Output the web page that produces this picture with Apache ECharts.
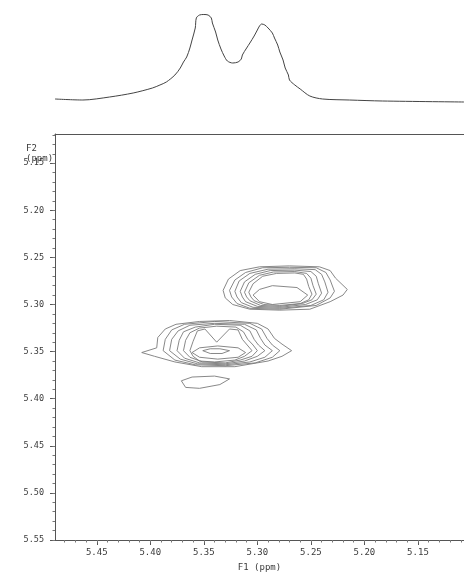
<!DOCTYPE html>
<html><head><meta charset="utf-8">
<script src="https://cdn.jsdelivr.net/npm/echarts@6/dist/echarts.min.js"></script>
<style>html,body{margin:0;padding:0;background:#fff}#c{width:464px;height:577px}</style>
</head><body><div id="c"></div>
<script>
// 1D projection spectrum (F1 ppm, relative intensity)
const specF1 = [5.489,5.463,5.438,5.416,5.398,5.391,5.385,5.377,5.372,5.369,5.366,5.363,5.361,5.358,5.357,5.354,5.350,5.346,5.343,5.342,5.339,5.337,5.334,5.331,5.328,5.323,5.318,5.315,5.314,5.310,5.307,5.303,5.300,5.298,5.296,5.293,5.290,5.286,5.284,5.281,5.279,5.276,5.274,5.271,5.270,5.265,5.260,5.251,5.239,5.214,5.183,5.107];
const specIntensity = [6,5,8,12,17,20,23,30,37,43,48,57,65,77,87,90,90.5,90,87,82,73,65,56,49,44,42,43,46,50,57,62,69,75,79,81,80,77,72,67,60,53,45,37,30,25,20,16,9,6,5,4,3];

// tick labels
const xTickLabels = [5.15,5.20,5.25,5.30,5.35,5.40,5.45];
const yTickLabels = [5.15,5.20,5.25,5.30,5.35,5.40,5.45,5.50,5.55];

// contour rings [F1, F2] — upper-right cross peak
const upperRing0 = [[5.332,5.285],[5.327,5.273],[5.316,5.264],[5.298,5.260],[5.270,5.259],[5.242,5.260],[5.232,5.264],[5.227,5.272],[5.216,5.284],[5.220,5.290],[5.232,5.297],[5.251,5.305],[5.279,5.306],[5.307,5.305],[5.323,5.300],[5.330,5.293]];
const upperRing1 = [[5.326,5.285],[5.321,5.274],[5.311,5.266],[5.295,5.261],[5.270,5.2605],[5.245,5.261],[5.236,5.266],[5.232,5.274],[5.228,5.286],[5.232,5.293],[5.245,5.301],[5.279,5.305],[5.307,5.304],[5.319,5.299],[5.324,5.292]];
const upperRing2 = [[5.321,5.286],[5.317,5.275],[5.307,5.267],[5.290,5.2625],[5.265,5.262],[5.246,5.263],[5.240,5.268],[5.237,5.276],[5.234,5.287],[5.238,5.295],[5.250,5.301],[5.279,5.304],[5.304,5.303],[5.315,5.298],[5.319,5.292]];
const upperRing3 = [[5.316,5.286],[5.312,5.276],[5.302,5.268],[5.288,5.264],[5.265,5.2635],[5.250,5.265],[5.245,5.270],[5.243,5.278],[5.240,5.288],[5.244,5.295],[5.255,5.300],[5.279,5.303],[5.300,5.302],[5.311,5.297],[5.314,5.292]];
const upperRing4 = [[5.312,5.287],[5.308,5.277],[5.298,5.269],[5.285,5.2655],[5.265,5.265],[5.254,5.267],[5.250,5.272],[5.248,5.280],[5.245,5.289],[5.249,5.295],[5.258,5.299],[5.279,5.302],[5.297,5.301],[5.307,5.296],[5.310,5.292]];
const upperRing5 = [[5.308,5.287],[5.304,5.278],[5.295,5.270],[5.282,5.267],[5.265,5.2665],[5.257,5.268],[5.254,5.273],[5.252,5.281],[5.249,5.289],[5.252,5.295],[5.260,5.299],[5.279,5.301],[5.294,5.300],[5.303,5.296],[5.306,5.292]];
const upperCore = [[5.304,5.290],[5.298,5.284],[5.286,5.280],[5.263,5.282],[5.253,5.290],[5.260,5.297],[5.286,5.300],[5.298,5.297]];

// lower-left diagonal peak
const lowerRing0 = [[5.408,5.351],[5.394,5.346],[5.393,5.335],[5.386,5.326],[5.376,5.321],[5.354,5.318],[5.326,5.317],[5.300,5.320],[5.290,5.326],[5.284,5.336],[5.277,5.342],[5.268,5.349],[5.277,5.355],[5.290,5.360],[5.321,5.366],[5.352,5.366],[5.377,5.361],[5.396,5.355]];
const lowerRing1 = [[5.388,5.349],[5.386,5.337],[5.380,5.327],[5.368,5.321],[5.340,5.318],[5.307,5.320],[5.296,5.326],[5.291,5.336],[5.286,5.343],[5.279,5.349],[5.286,5.356],[5.302,5.362],[5.330,5.365],[5.358,5.364],[5.377,5.359]];
const lowerRing2 = [[5.382,5.349],[5.380,5.337],[5.374,5.328],[5.363,5.322],[5.340,5.320],[5.312,5.321],[5.301,5.327],[5.297,5.336],[5.293,5.343],[5.286,5.349],[5.293,5.356],[5.307,5.361],[5.330,5.364],[5.356,5.363],[5.372,5.358]];
const lowerRing3 = [[5.375,5.349],[5.373,5.338],[5.369,5.329],[5.358,5.324],[5.340,5.321],[5.316,5.322],[5.307,5.328],[5.303,5.337],[5.299,5.343],[5.293,5.349],[5.300,5.355],[5.312,5.360],[5.330,5.363],[5.354,5.362],[5.368,5.357]];
const lowerRing4 = [[5.369,5.349],[5.367,5.338],[5.363,5.330],[5.354,5.325],[5.338,5.323],[5.320,5.324],[5.313,5.329],[5.309,5.337],[5.304,5.343],[5.300,5.349],[5.305,5.355],[5.316,5.359],[5.330,5.362],[5.351,5.361],[5.363,5.356]];
const lowerRing5 = [[5.363,5.349],[5.360,5.339],[5.356,5.328],[5.349,5.326],[5.338,5.340],[5.326,5.326],[5.318,5.327],[5.314,5.337],[5.305,5.349],[5.312,5.355],[5.321,5.359],[5.340,5.361],[5.354,5.360],[5.360,5.355]];
const lowerRing6 = [[5.361,5.351],[5.354,5.346],[5.337,5.344],[5.318,5.346],[5.311,5.351],[5.318,5.356],[5.337,5.358],[5.354,5.356]];
const lowerCore = [[5.351,5.349],[5.344,5.347],[5.335,5.347],[5.326,5.349],[5.333,5.352],[5.344,5.352]];

// small isolated contour below
const smallPeak = [[5.371,5.381],[5.361,5.377],[5.340,5.376],[5.326,5.379],[5.335,5.385],[5.354,5.389],[5.367,5.388]];

const contours = [upperRing0,upperRing1,upperRing2,upperRing3,upperRing4,upperRing5,upperCore,
  lowerRing0,lowerRing1,lowerRing2,lowerRing3,lowerRing4,lowerRing5,lowerRing6,lowerCore,smallPeak];

const X_MIN = 5.107, X_MAX = 5.489, Y_MIN = 5.119, Y_MAX = 5.55;
const xMinor = [], yMinor = [];
for (let i = 511; i <= 548; i++) xMinor.push(i / 100);
for (let i = 512; i <= 555; i++) yMinor.push(i / 100);

const mono = 'DejaVu Sans Mono';
const axisCol = '#555';
const labelCol = '#3a3a3a';

const series = [{
  type: 'line', xAxisIndex: 0, yAxisIndex: 0,
  data: specF1.map((f, i) => [f, specIntensity[i]]),
  symbol: 'none', smooth: 0.3,
  lineStyle: { color: '#444', width: 1 }, silent: true, clip: true
}];
contours.forEach(ring => {
  series.push({
    type: 'line', xAxisIndex: 1, yAxisIndex: 1,
    data: ring.concat([ring[0]]),
    symbol: 'none', smooth: false,
    lineStyle: { color: '#7a7a7a', width: 0.9 }, silent: true
  });
});

const chart = echarts.init(document.getElementById('c'), null, { renderer: 'canvas' });
chart.setOption({
  animation: false,
  backgroundColor: '#fff',
  title: {
    text: 'F2\n(ppm)', left: 21, top: 139,
    textStyle: { fontFamily: mono, fontSize: 9, lineHeight: 10, fontWeight: 'normal', color: labelCol }
  },
  grid: [
    { left: 55, right: 0, top: 5, height: 100 },
    { left: 55, right: 0, top: 134, bottom: 34 }
  ],
  xAxis: [
    { gridIndex: 0, type: 'value', inverse: true, min: X_MIN, max: X_MAX, show: false },
    { gridIndex: 1, type: 'value', inverse: true, min: X_MIN, max: X_MAX, position: 'bottom',
      axisLine: { show: true, lineStyle: { color: axisCol, width: 1 } },
      axisTick: { show: true, customValues: xTickLabels, length: 5, lineStyle: { color: axisCol } },
      axisLabel: { customValues: xTickLabels, formatter: v => v.toFixed(2), fontFamily: mono, fontSize: 9, color: labelCol, margin: 8 },
      splitLine: { show: false },
      name: 'F1 (ppm)', nameLocation: 'middle', nameGap: 23,
      nameTextStyle: { fontFamily: mono, fontSize: 9, color: labelCol } },
    { gridIndex: 1, type: 'value', inverse: true, min: X_MIN, max: X_MAX, position: 'bottom',
      axisLine: { show: false },
      axisTick: { show: true, customValues: xMinor, length: 2.5, lineStyle: { color: '#777' } },
      axisLabel: { show: false }, splitLine: { show: false } },
    { gridIndex: 1, type: 'value', inverse: true, min: X_MIN, max: X_MAX, position: 'top',
      axisLine: { show: true, lineStyle: { color: axisCol, width: 1 } },
      axisTick: { show: false }, axisLabel: { show: false }, splitLine: { show: false } }
  ],
  yAxis: [
    { gridIndex: 0, type: 'value', min: 0, max: 100, show: false },
    { gridIndex: 1, type: 'value', inverse: true, min: Y_MIN, max: Y_MAX, position: 'left',
      axisLine: { show: true, lineStyle: { color: axisCol, width: 1 } },
      axisTick: { show: true, customValues: yTickLabels, length: 5, lineStyle: { color: axisCol } },
      axisLabel: { customValues: yTickLabels, formatter: v => v.toFixed(2), fontFamily: mono, fontSize: 8.5, color: labelCol, margin: 11 },
      splitLine: { show: false } },
    { gridIndex: 1, type: 'value', inverse: true, min: Y_MIN, max: Y_MAX, position: 'left',
      axisLine: { show: false },
      axisTick: { show: true, customValues: yMinor, length: 2.5, lineStyle: { color: '#777' } },
      axisLabel: { show: false }, splitLine: { show: false } }
  ],
  series: series
});
</script>
</body></html>
